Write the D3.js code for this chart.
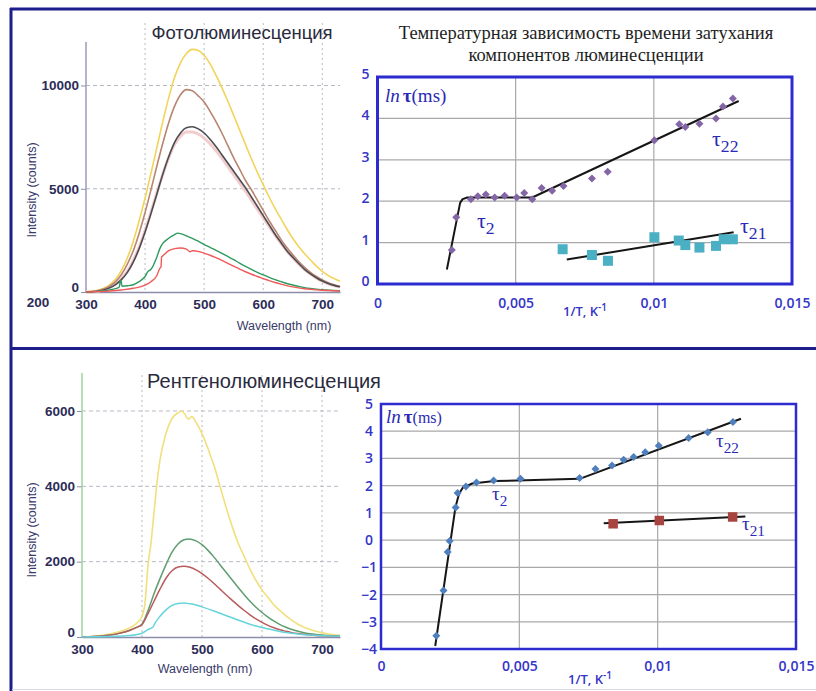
<!DOCTYPE html>
<html>
<head>
<meta charset="utf-8">
<script src="https://cdn.jsdelivr.net/npm/d3@7"></script>
<style>
  html, body { margin: 0; padding: 0; background: #fff; }
  svg { display: block; }
</style>
</head>
<body>
<svg id="fig" width="816" height="691"></svg>
<script>
// ---------- Photoluminescence spectra: [wavelength nm, counts] ----------
const plYellow = [[300,0],[310,30],[320,80],[330,180],[340,350],[350,620],[360,1050],[370,1650],[380,2450],[390,3450],[400,4550],[410,5750],[420,7000],[430,8250],[440,9400],[450,10400],[460,11100],[470,11550],[480,11750],[490,11700],[500,11450],[510,11050],[520,10500],[530,9900],[540,9250],[550,8550],[560,7850],[570,7150],[580,6450],[590,5800],[600,5200],[610,4600],[620,4050],[630,3550],[640,3050],[650,2600],[660,2200],[670,1850],[680,1550],[690,1250],[700,1000],[710,800],[720,650],[730,520]];
const plBrown = [[300,0],[310,20],[320,60],[330,140],[340,280],[350,500],[360,850],[370,1350],[380,2000],[390,2850],[400,3850],[410,4950],[420,6100],[430,7200],[440,8200],[450,9000],[460,9550],[470,9800],[480,9750],[490,9500],[500,9200],[510,8750],[520,8250],[530,7700],[540,7100],[550,6500],[560,5950],[570,5400],[580,4950],[590,4450],[600,3950],[610,3450],[620,3000],[630,2550],[640,2150],[650,1800],[660,1480],[670,1200],[680,950],[690,750],[700,580],[710,450],[720,350],[730,270]];
const plPink = [[300,0],[310,10],[320,40],[330,100],[340,210],[350,380],[360,640],[370,1000],[380,1520],[390,2180],[400,2980],[410,3880],[420,4800],[430,5700],[440,6500],[450,7150],[460,7550],[470,7750],[480,7750],[490,7650],[500,7450],[510,7180],[520,6850],[530,6480],[540,6080],[550,5680],[560,5280],[570,4880],[580,4450],[590,4020],[600,3600],[610,3170],[620,2750],[630,2350],[640,1980],[650,1660],[660,1360],[670,1090],[680,870],[690,680],[700,520],[710,400],[720,310],[730,240]];
const plBlack = [[300,0],[310,10],[320,40],[330,100],[340,200],[350,360],[360,600],[370,950],[380,1450],[390,2100],[400,2900],[410,3800],[420,4750],[430,5700],[440,6550],[450,7250],[460,7700],[470,7950],[480,8000],[490,7900],[500,7700],[510,7400],[520,7050],[530,6650],[540,6250],[550,5850],[560,5450],[570,5050],[580,4600],[590,4150],[600,3700],[610,3250],[620,2800],[630,2400],[640,2000],[650,1680],[660,1380],[670,1100],[680,880],[690,690],[700,530],[710,410],[720,320],[730,250]];
const plGreen = [[300,0],[310,10],[320,30],[330,60],[340,100],[350,160],[356,230],[359,580],[361,280],[370,300],[380,350],[390,500],[400,750],[405,1000],[410,1100],[420,1700],[425,2100],[430,2350],[440,2600],[450,2780],[455,2850],[460,2830],[470,2720],[480,2600],[490,2460],[500,2300],[510,2160],[520,2020],[530,1870],[540,1720],[550,1570],[560,1400],[570,1240],[580,1090],[590,950],[600,830],[610,710],[620,600],[630,500],[640,410],[650,340],[660,270],[670,210],[680,170],[690,140],[700,110],[710,90],[720,70],[730,60]];
const plRed = [[300,0],[320,20],[340,50],[360,100],[380,180],[400,330],[410,500],[420,800],[425,1150],[427,1220],[428,1700],[430,1750],[440,2000],[450,2100],[460,2130],[470,2080],[476,1950],[480,2000],[490,1970],[500,1880],[510,1780],[520,1660],[530,1530],[540,1390],[550,1250],[560,1110],[570,980],[580,860],[590,750],[600,650],[610,550],[620,460],[630,380],[640,310],[650,250],[660,200],[670,160],[680,130],[690,105],[700,85],[710,70],[720,58],[730,48]];

// ---------- X-ray luminescence spectra: [wavelength nm, counts] ----------
const xrYellow = [[300,0],[320,20],[340,60],[360,130],[380,250],[390,350],[400,550],[405,900],[410,1900],[415,2500],[420,3300],[425,4100],[430,4700],[440,5400],[450,5800],[460,5950],[466,6000],[472,5900],[477,5780],[483,5850],[490,5700],[500,5400],[510,5000],[520,4550],[530,4000],[540,3450],[550,2950],[560,2500],[570,2150],[580,1800],[590,1500],[600,1250],[610,1050],[620,850],[630,700],[640,560],[650,440],[660,340],[670,260],[680,200],[690,150],[700,110],[710,80],[720,60],[730,45]];
const xrGreen = [[300,0],[320,10],[340,40],[360,90],[380,180],[390,250],[400,340],[410,700],[420,1150],[430,1550],[440,1920],[450,2250],[460,2470],[470,2580],[478,2600],[490,2550],[500,2450],[510,2300],[520,2120],[530,1920],[540,1720],[550,1520],[560,1320],[570,1130],[580,950],[590,790],[600,650],[610,530],[620,420],[630,330],[640,260],[650,200],[660,150],[670,115],[680,85],[690,65],[700,50],[710,40],[720,30],[730,25]];
const xrRed = [[300,0],[320,10],[340,40],[360,90],[380,180],[390,250],[400,330],[410,620],[420,950],[430,1270],[440,1560],[450,1760],[460,1860],[470,1880],[480,1850],[490,1780],[500,1680],[510,1560],[520,1420],[530,1270],[540,1120],[550,980],[560,840],[570,710],[580,590],[590,480],[600,390],[610,310],[620,245],[630,190],[640,150],[650,115],[660,90],[670,70],[680,55],[690,42],[700,33],[710,26],[720,20],[730,16]];
const xrCyan = [[300,0],[340,10],[380,40],[400,100],[410,200],[418,260],[421,350],[430,550],[440,720],[450,840],[460,890],[470,900],[480,880],[490,850],[500,800],[520,690],[540,570],[560,450],[580,340],[600,250],[620,180],[640,120],[660,80],[680,50],[700,35],[730,20]];

// ---------- Decay times: [1/T, ln tau] ----------
const plTau22 = [[0.00269,0.82],[0.00285,1.61],[0.00338,2.05],[0.00363,2.12],[0.00392,2.16],[0.00424,2.09],[0.0046,2.13],[0.00504,2.09],[0.00531,2.2],[0.0056,2.05],[0.00594,2.32],[0.00632,2.25],[0.00673,2.37],[0.00776,2.55],[0.00833,2.71],[0.01002,3.47],[0.01092,3.86],[0.01114,3.79],[0.01165,3.87],[0.01225,4.0],[0.0125,4.29],[0.01286,4.48]];
const plTau21 = [[0.0067,0.84],[0.00776,0.7],[0.00834,0.56],[0.01002,1.13],[0.0109,1.05],[0.01114,0.94],[0.01165,0.88],[0.01225,0.92],[0.01253,1.08],[0.01286,1.08]];
const plFit2 = [[0.00251,0.35],[0.00299,1.96],[0.00308,2.05],[0.00325,2.09],[0.0056,2.09],[0.01307,4.42]];
const plFit21 = [[0.00685,0.59],[0.01289,1.25]];

const xrTau22 = [[0.002,-3.51],[0.00226,-1.85],[0.00241,-0.44],[0.00248,-0.03],[0.0027,1.2],[0.00277,1.73],[0.00307,1.97],[0.00345,2.12],[0.00407,2.19],[0.00504,2.25],[0.00718,2.28],[0.00775,2.61],[0.00835,2.74],[0.00877,2.95],[0.00913,3.05],[0.00955,3.23],[0.01004,3.47],[0.01112,3.75],[0.01181,3.96],[0.01272,4.34]];
const xrTau21 = [[0.00839,0.6],[0.01006,0.72],[0.01271,0.85]];
const xrFit2 = [[0.00196,-3.89],[0.00269,1.2],[0.00282,1.7],[0.00296,1.93],[0.0033,2.08],[0.0041,2.17],[0.00718,2.25],[0.01301,4.46]];
const xrFit21 = [[0.00805,0.62],[0.01317,0.87]];

// ---------- Tick values ----------
const plCountTicks = [0, 5000, 10000];
const xrCountTicks = [0, 2000, 4000, 6000];
const nmTicks = [300, 400, 500, 600, 700];
const nmGrid = [400, 500, 600, 700];
const invTTicks = [0, 0.005, 0.01, 0.015];
const lnTauTicksPL = [0, 1, 2, 3, 4, 5];
const lnTauTicksXR = [-4, -3, -2, -1, 0, 1, 2, 3, 4, 5];

const svg = d3.select("#fig");
const NAVY = "#1d1d8c";
const LABEL = "#2c2c58";
const BLUE = "#3535c8";
const SANS = "Liberation Sans, Arial, sans-serif";
const SERIF = "'Liberation Serif', 'DejaVu Serif', 'Times New Roman', serif";

// ---------- frame ----------
svg.append("line").attr("x1", 10).attr("x2", 816).attr("y1", 9).attr("y2", 9)
  .attr("stroke", NAVY).attr("stroke-width", 3);
svg.append("line").attr("x1", 11).attr("x2", 11).attr("y1", 8).attr("y2", 691)
  .attr("stroke", NAVY).attr("stroke-width", 3);
svg.append("line").attr("x1", 10).attr("x2", 816).attr("y1", 348.5).attr("y2", 348.5)
  .attr("stroke", NAVY).attr("stroke-width", 3);
svg.append("line").attr("x1", 12).attr("x2", 816).attr("y1", 689.5).attr("y2", 689.5)
  .attr("stroke", "#d8d8ec").attr("stroke-width", 1);

// ---------- spectrum panel ----------
function spectrumPanel(o) {
  const g = svg.append("g");
  const x = d3.scaleLinear().domain([300, 730]).range(o.xr);
  const y = d3.scaleLinear().domain([0, o.yMaxTick]).range(o.yr);

  // grid
  g.selectAll(".vg").data(nmGrid).join("line")
    .attr("x1", d => x(d)).attr("x2", d => x(d))
    .attr("y1", o.gridTop).attr("y2", o.yr[0])
    .attr("stroke", "#b9b9c4").attr("stroke-width", 1).attr("stroke-dasharray", "2,3");
  g.selectAll(".hg").data(o.yTicks.filter(d => d > 0)).join("line")
    .attr("x1", o.xr[0]).attr("x2", o.xr[1])
    .attr("y1", d => y(d)).attr("y2", d => y(d))
    .attr("stroke", "#b9b9c4").attr("stroke-width", 1).attr("stroke-dasharray", "4,3");

  // axes
  const ya = g.append("g").attr("transform", `translate(${o.xr[0]},0)`)
    .call(d3.axisLeft(y).tickValues(o.yTicks).tickSize(5).tickPadding(2).tickFormat(d3.format("d")));
  ya.select(".domain").remove();
  ya.selectAll(".tick line").attr("stroke", "#8c8cab");
  ya.selectAll(".tick text").attr("fill", LABEL).attr("font-size", 13.5)
    .attr("font-family", SANS).attr("font-weight", "bold")
    .attr("dy", (d) => d === 0 ? "-0.05em" : "0.32em");
  g.append("line").attr("x1", o.xr[0]).attr("x2", o.xr[0]).attr("y1", o.axisTop).attr("y2", o.yr[0])
    .attr("stroke", o.yAxisColor).attr("stroke-width", 1.5);

  const xa = g.append("g").attr("transform", `translate(0,${o.yr[0]})`)
    .call(d3.axisBottom(x).tickValues(nmTicks).tickSize(0).tickPadding(o.xPad).tickFormat(d3.format("d")));
  xa.select(".domain").attr("stroke", "#8c8cab").attr("stroke-width", 1.5);
  xa.selectAll(".tick text").attr("fill", LABEL).attr("font-size", 13.5)
    .attr("font-family", SANS).attr("font-weight", "bold");

  // spectra
  const line = d3.line().x(d => x(d[0])).y(d => y(d[1])).curve(d3.curveMonotoneX);
  o.series.forEach(s => {
    g.append("path").datum(s.data).attr("d", line)
      .attr("fill", "none").attr("stroke", s.color).attr("stroke-width", s.w || 1.5)
      .attr("stroke-linejoin", "round");
  });

  // titles
  g.append("text").attr("x", o.titleX).attr("y", o.titleY).attr("text-anchor", "middle")
    .attr("font-family", SANS).attr("font-size", o.titleSize)
    .attr("fill", "#2a2a3e").text(o.title);
  g.append("text").attr("x", o.xLabelX).attr("y", o.xLabelY).attr("text-anchor", "middle")
    .attr("font-family", SANS).attr("font-size", 12.5)
    .attr("fill", "#3a3a6a").text("Wavelength (nm)");
  g.append("text").attr("transform", `translate(${o.yLabelX},${o.yLabelY}) rotate(-90)`)
    .attr("text-anchor", "middle")
    .attr("font-family", SANS).attr("font-size", 12.5)
    .attr("fill", "#3a3a6a").text("Intensity (counts)");
  return { g, x, y };
}

const pl = spectrumPanel({
  xr: [86, 340], yr: [292, 85.5], yMaxTick: 10000, yTicks: plCountTicks,
  gridTop: 23, axisTop: 42, yAxisColor: "#9c9cb8", xPad: 7,
  title: "Фотолюминесценция", titleX: 242, titleY: 39, titleSize: 18.5,
  xLabelX: 284, xLabelY: 330, yLabelX: 36, yLabelY: 190,
  series: [
    { data: plPink, color: "#f3cccc", w: 3 },
    { data: plYellow, color: "#f2d45a", w: 1.6 },
    { data: plBrown, color: "#b88570", w: 1.6 },
    { data: plBlack, color: "#4c4c52", w: 1.6 },
    { data: plGreen, color: "#2f9a5e", w: 1.4 },
    { data: plRed, color: "#ef5a5a", w: 1.4 }
  ]
});
pl.g.append("text").attr("x", 38).attr("y", 307).attr("text-anchor", "middle")
  .attr("fill", LABEL).attr("font-size", 13.5).attr("font-weight", "bold")
  .attr("font-family", SANS).text("200");

spectrumPanel({
  xr: [82, 340], yr: [637, 637 - 37.67 * 6.6667], yMaxTick: 6666.7, yTicks: xrCountTicks,
  gridTop: 375, axisTop: 373, yAxisColor: "#9ed49e", xPad: 7,
  title: "Рентгенолюминесценция", titleX: 264, titleY: 388, titleSize: 20,
  xLabelX: 205, xLabelY: 673, yLabelX: 36, yLabelY: 530,
  series: [
    { data: xrYellow, color: "#f1e07c", w: 1.6 },
    { data: xrGreen, color: "#5f9d70", w: 1.5 },
    { data: xrRed, color: "#b85c5c", w: 1.5 },
    { data: xrCyan, color: "#66d4dc", w: 1.5 }
  ]
});

// ---------- decay-time panel ----------
const diamond = {
  draw(ctx, size) {
    const r = Math.sqrt(size) / 2;
    ctx.moveTo(0, -r); ctx.lineTo(r, 0); ctx.lineTo(0, r); ctx.lineTo(-r, 0); ctx.closePath();
  }
};
const commaFmt = d => d === 0 ? "0" : String(+d.toFixed(3)).replace(".", ",");

function decayPanel(o) {
  const g = svg.append("g");
  const x = d3.scaleLinear().domain([0, 0.015]).range(o.xr);
  const y = d3.scaleLinear().domain(o.yDom).range(o.yr);

  // grid
  g.selectAll(".hg").data(o.yTicks).join("line")
    .attr("x1", o.xr[0]).attr("x2", o.xr[1]).attr("y1", d => y(d)).attr("y2", d => y(d))
    .attr("stroke", "#a9a9a9").attr("stroke-width", 1.2);
  g.selectAll(".vg").data([0.005, 0.01]).join("line")
    .attr("x1", d => x(d)).attr("x2", d => x(d)).attr("y1", o.yr[1]).attr("y2", o.yr[0])
    .attr("stroke", "#a9a9a9").attr("stroke-width", 1.2);
  g.append("rect").attr("x", o.xr[0]).attr("y", o.yr[1])
    .attr("width", o.xr[1] - o.xr[0]).attr("height", o.yr[0] - o.yr[1])
    .attr("fill", "none").attr("stroke", "#2b2bd0").attr("stroke-width", o.boxW);

  // axes (labels only)
  const ya = g.append("g").attr("transform", `translate(${o.xr[0]},0)`)
    .call(d3.axisLeft(y).tickValues(o.yTicks).tickSize(0).tickPadding(o.yPad).tickFormat(d3.format("d")));
  ya.select(".domain").remove();
  ya.selectAll(".tick text").attr("fill", BLUE).attr("font-size", 14).attr("font-weight", 600)
    .attr("font-family", "Open Sans, sans-serif").attr("text-anchor", "middle")
    .attr("dx", o.yLabDx).attr("dy", o.yLabDy);
  const xa = g.append("g").attr("transform", `translate(0,${o.yr[0]})`)
    .call(d3.axisBottom(x).tickValues(invTTicks).tickSize(0).tickPadding(o.xPad).tickFormat(commaFmt));
  xa.select(".domain").remove();
  xa.selectAll(".tick text").attr("fill", BLUE).attr("font-size", 14).attr("font-weight", 600)
    .attr("font-family", "Open Sans, sans-serif");

  // axis title 1/T, K^-1
  const xt = g.append("text").attr("x", o.xTitle[0]).attr("y", o.xTitle[1]).attr("text-anchor", "middle")
    .attr("fill", BLUE).attr("font-family", "Open Sans, sans-serif").attr("font-size", 13).attr("font-weight", 600);
  xt.append("tspan").text("1/T, K");
  xt.append("tspan").attr("dy", -5).attr("font-size", 10).text("-1");

  // fits
  const line = d3.line().x(d => x(d[0])).y(d => y(d[1]));
  [o.fit2, o.fit21].forEach(f => g.append("path").datum(f).attr("d", line)
    .attr("fill", "none").attr("stroke", "#161616").attr("stroke-width", 2).attr("stroke-linejoin", "round"));

  // markers
  g.selectAll(".d").data(o.tau22).join("path")
    .attr("transform", d => `translate(${x(d[0])},${y(d[1])})`)
    .attr("d", d3.symbol(diamond, 64)).attr("fill", o.c22);
  g.selectAll(".s").data(o.tau21).join("path")
    .attr("transform", d => `translate(${x(d[0])},${y(d[1])})`)
    .attr("d", d3.symbol(d3.symbolSquare, o.sqSize)).attr("fill", o.c21);

  // in-plot labels
  const lt = g.append("text").attr("x", o.lnPos[0]).attr("y", o.lnPos[1])
    .attr("fill", "#2a2ab4").attr("font-family", SERIF).attr("font-size", 19);
  lt.append("tspan").attr("font-style", "italic").text("ln");
  lt.append("tspan").attr("font-weight", "bold").attr("dx", 3).text("τ");
  lt.append("tspan").attr("font-size", o.msSize).text("(ms)");

  function tau(pos, sub) {
    const t = g.append("text").attr("x", pos[0]).attr("y", pos[1])
      .attr("fill", "#2a2ab4").attr("font-family", SERIF).attr("font-size", o.tauSize);
    t.append("tspan").text("τ");
    t.append("tspan").attr("dy", 6).attr("font-size", o.tauSize * 0.8).text(sub);
  }
  tau(o.t2, "2"); tau(o.t22, "22"); tau(o.t21, "21");
  return g;
}

// title of the upper decay chart
const ttl = svg.append("text").attr("text-anchor", "middle").attr("fill", "#1f1f1f")
  .attr("font-family", SERIF).attr("font-size", 18.5);
ttl.append("tspan").attr("x", 586).attr("y", 39).text("Температурная зависимость времени затухания");
ttl.append("tspan").attr("x", 586).attr("y", 61).text("компонентов люминесценции");

decayPanel({
  xr: [377.5, 792], yr: [284, 77], yDom: [0, 5], yTicks: lnTauTicksPL,
  boxW: 3, yPad: 12, yLabDx: 0, yLabDy: "0.1em", xPad: 14,
  xTitle: [585, 316],
  fit2: plFit2, fit21: plFit21, tau22: plTau22, tau21: plTau21,
  c22: "#8466a6", c21: "#4bb0c4", sqSize: 100,
  lnPos: [385, 102], msSize: 19, tauSize: 22,
  t2: [477, 228], t22: [712, 146], t21: [740, 233]
});

decayPanel({
  xr: [381, 796], yr: [649, 404], yDom: [-4, 5], yTicks: lnTauTicksXR,
  boxW: 2.5, yPad: 12, yLabDx: 0, yLabDy: "0.32em", xPad: 12,
  xTitle: [590, 684],
  fit2: xrFit2, fit21: xrFit21, tau22: xrTau22, tau21: xrTau21,
  c22: "#4f7fbd", c21: "#a8443f", sqSize: 90,
  lnPos: [386, 423], msSize: 16, tauSize: 19,
  t2: [492, 500], t22: [716, 447], t21: [742, 530]
});
</script>
</body>
</html>
